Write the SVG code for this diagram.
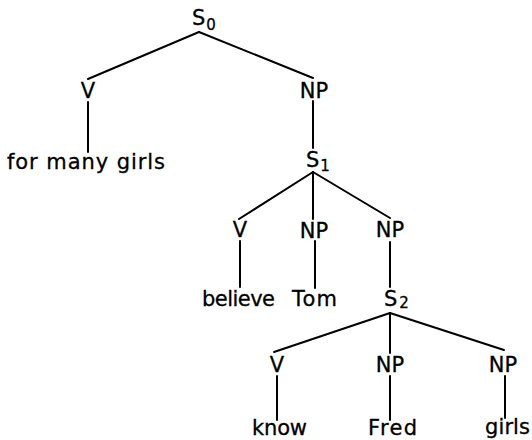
<svg xmlns="http://www.w3.org/2000/svg" width="532" height="440" viewBox="0 0 532 440">
<style>
text{font-family:"DejaVu Sans","Liberation Sans",sans-serif;font-size:21px;fill:#000;stroke:#000;stroke-width:0.3}
.c{text-anchor:middle}
.sub{font-size:15px}
#edges line{stroke:#000;stroke-width:2;stroke-linecap:round}
</style>
<rect width="532" height="440" fill="#fff"/>
<g id="edges">
<line x1="199" y1="32" x2="88" y2="79"/>
<line x1="199" y1="32" x2="313" y2="78"/>
<line x1="88" y1="102" x2="88" y2="152"/>
<line x1="313" y1="101" x2="313" y2="148"/>
<line x1="313" y1="172" x2="239" y2="219"/>
<line x1="313" y1="172" x2="313" y2="219"/>
<line x1="313" y1="172" x2="390" y2="218"/>
<line x1="240" y1="241" x2="240" y2="287"/>
<line x1="315" y1="241" x2="315" y2="288"/>
<line x1="390" y1="242" x2="390" y2="287"/>
<line x1="390" y1="313" x2="274" y2="352"/>
<line x1="390" y1="313" x2="390" y2="353"/>
<line x1="390" y1="313" x2="504" y2="350"/>
<line x1="277" y1="376" x2="277" y2="420"/>
<line x1="390" y1="376" x2="390" y2="420"/>
<line x1="505" y1="376" x2="505" y2="418"/>
</g>
<g id="S0"><text x="192" y="25">S<tspan class="sub" dx="1" dy="5">0</tspan></text></g>
<g id="V1"><text class="c" x="88" y="98">V</text></g>
<g id="NP1"><text class="c" x="314" y="98">NP</text></g>
<g id="w-for-many-girls"><text x="7" y="169" textLength="158" lengthAdjust="spacing">for many girls</text></g>
<g id="S1"><text x="306" y="167">S<tspan class="sub" dx="1" dy="4">1</tspan></text></g>
<g id="V2"><text class="c" x="240" y="237">V</text></g>
<g id="NP2"><text class="c" x="314" y="238">NP</text></g>
<g id="NP3"><text class="c" x="390" y="237">NP</text></g>
<g id="w-believe"><text x="202" y="306" textLength="73" lengthAdjust="spacing">believe</text></g>
<g id="w-Tom"><text x="292" y="306" textLength="45" lengthAdjust="spacing">Tom</text></g>
<g id="S2"><text x="384" y="306">S<tspan class="sub" dx="2" dy="2">2</tspan></text></g>
<g id="V3"><text class="c" x="277" y="372">V</text></g>
<g id="NP4"><text class="c" x="390" y="372">NP</text></g>
<g id="NP5"><text class="c" x="503" y="372">NP</text></g>
<g id="w-know"><text x="252" y="435" textLength="55" lengthAdjust="spacing">know</text></g>
<g id="w-Fred"><text x="368" y="435" textLength="49" lengthAdjust="spacing">Fred</text></g>
<g id="w-girls"><text x="485" y="434" textLength="45" lengthAdjust="spacing">girls</text></g>
</svg>
